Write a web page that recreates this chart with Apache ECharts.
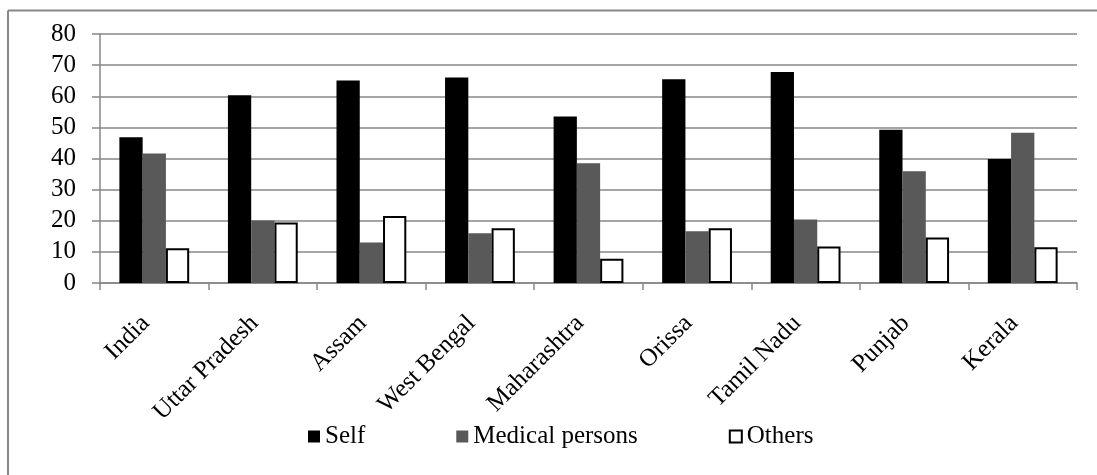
<!DOCTYPE html>
<html>
<head>
<meta charset="utf-8">
<script src="https://cdn.jsdelivr.net/npm/echarts@6/dist/echarts.min.js"></script>
<style>
  html, body { margin: 0; padding: 0; background: #fff; }
  #chart { width: 1097px; height: 475px; }
</style>
</head>
<body>
<div id="chart"></div>
<script>
// States and the all-India figure
const categories = ['India', 'Uttar Pradesh', 'Assam', 'West Bengal', 'Maharashtra', 'Orissa', 'Tamil Nadu', 'Punjab', 'Kerala'];

// Share (%) by source
const selfValues    = [46.8, 60.3, 65.1, 66.0, 53.5, 65.5, 67.8, 49.2, 39.8];
const medicalValues = [41.6, 20.1, 13.0, 16.0, 38.5, 16.6, 20.4, 35.9, 48.3];
const othersValues  = [11.2, 19.4, 21.5, 17.6, 7.8, 17.6, 11.7, 14.6, 11.5];

const seriesNames = ['Self', 'Medical persons', 'Others'];
const yTicks = { min: 0, max: 80, interval: 10 };

const FONT = '"Liberation Serif", "Times New Roman", serif';
const GRAY = '#878787';

const chart = echarts.init(document.getElementById('chart'), null, { renderer: 'canvas' });

chart.setOption({
  animation: false,
  backgroundColor: '#ffffff',
  textStyle: { fontFamily: FONT, color: '#000' },
  grid: { left: 100, right: 20, top: 34, bottom: 192, containLabel: false },
  legend: {
    left: 308,
    top: 424,
    padding: 0,
    itemWidth: 12,
    itemHeight: 12,
    itemGap: 91,
    icon: 'rect',
    textStyle: { fontFamily: FONT, fontSize: 25, color: '#000' },
    data: seriesNames
  },
  xAxis: {
    type: 'category',
    data: categories,
    boundaryGap: true,
    axisLine: { show: true, lineStyle: { color: GRAY, width: 1.5 } },
    axisTick: { show: true, length: 7, interval: 0, lineStyle: { color: GRAY, width: 1.5 } },
    axisLabel: {
      interval: 0,
      rotate: 45,
      margin: 28,
      padding: [0, 12, 0, 0],
      fontFamily: FONT,
      fontSize: 25,
      color: '#000'
    },
    splitLine: { show: false }
  },
  yAxis: {
    type: 'value',
    min: yTicks.min,
    max: yTicks.max,
    interval: yTicks.interval,
    axisLine: { show: true, lineStyle: { color: GRAY, width: 1.5 } },
    axisTick: { show: true, length: 8, lineStyle: { color: GRAY, width: 1.5 } },
    axisLabel: { margin: 24, fontFamily: FONT, fontSize: 25, color: '#000' },
    splitLine: { show: true, lineStyle: { color: GRAY, width: 1.5 } }
  },
  series: [
    {
      name: seriesNames[0],
      type: 'bar',
      data: selfValues,
      barGap: '0%',
      barCategoryGap: '35.7%',
      itemStyle: { color: '#000000' }
    },
    {
      name: seriesNames[1],
      type: 'bar',
      data: medicalValues,
      barGap: '0%',
      barCategoryGap: '35.7%',
      itemStyle: { color: '#595959' }
    },
    {
      name: seriesNames[2],
      type: 'bar',
      data: othersValues,
      barGap: '0%',
      barCategoryGap: '35.7%',
      itemStyle: { color: '#ffffff', borderColor: '#000000', borderWidth: 2 }
    }
  ],
  graphic: [
    // frame edges along the left and top of the figure
    { type: 'line', shape: { x1: 8, y1: 10.5, x2: 1097, y2: 10.5 }, style: { stroke: GRAY, lineWidth: 2 }, silent: true },
    { type: 'line', shape: { x1: 8, y1: 10.5, x2: 8, y2: 475 }, style: { stroke: GRAY, lineWidth: 2 }, silent: true }
  ]
});
</script>
</body>
</html>
